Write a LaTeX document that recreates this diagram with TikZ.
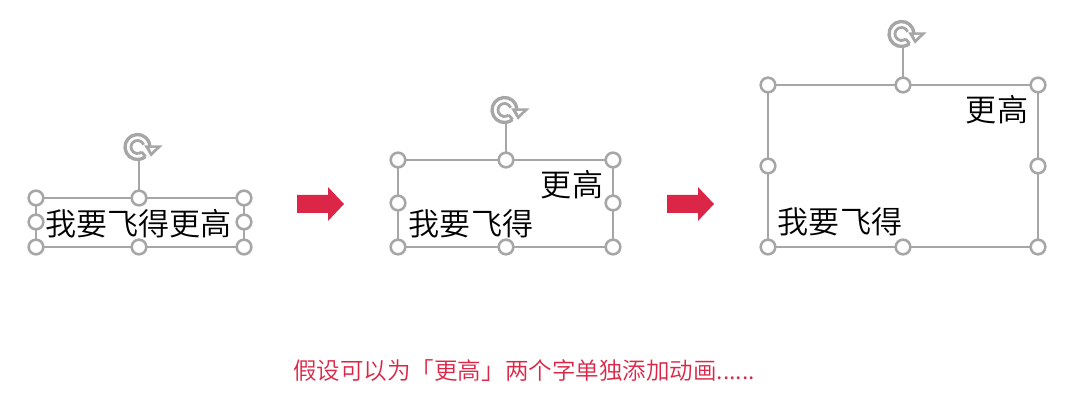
\documentclass[tikz,border=0pt]{standalone}
\usepackage{fontspec}
\setmainfont{Noto Sans CJK SC DemiLight}
\definecolor{hgray}{HTML}{A6A6A6}
\definecolor{hred}{HTML}{DC2647}
\newcommand{\rotateicon}[2]{%
  \begin{scope}[shift={(#1-1.5,#2)},y=0.75pt]
    \draw[hgray,line width=2.5pt] (5:12.5) arc[start angle=5,end angle=310,radius=12.5];
    \draw[hgray,line width=2.1pt] (20:6.5) arc[start angle=20,end angle=310,radius=6.5];
    \draw[hgray,line width=2.1pt] (310:6.5) -- (310:12.5);
    \fill[hgray] (6.7,1.6) -- (25,1.6) -- (13.4,-9.6) -- cycle;
    \fill[white] (12,-0.8) -- (18.5,-0.8) -- (14,-5) -- cycle;
  \end{scope}}
\newcommand{\selbox}[8]{% prefix, x0, xm, x1, y0, ym, y1, icon y
  \coordinate (#1rot) at (#3,#8+12.5);
  \draw[frame] (#2,#5) rectangle (#4,#7);
  \draw[frame] (#3,#5) -- (#1rot);
  \rotateicon{#3}{#8}
  \node[handle] (#1tl) at (#2,#5) {};
  \node[handle] (#1tm) at (#3,#5) {};
  \node[handle] (#1tr) at (#4,#5) {};
  \node[handle] (#1ml) at (#2,#6) {};
  \node[handle] (#1mr) at (#4,#6) {};
  \node[handle] (#1bl) at (#2,#7) {};
  \node[handle] (#1bm) at (#3,#7) {};
  \node[handle] (#1br) at (#4,#7) {};}
\newcommand{\redarrow}[1]{%
  \fill[hred] (#1,195) -- ++(31,0) -- ++(0,-8) -- ++(16,17) -- ++(-16,17) -- ++(0,-8) -- ++(-31,0) -- cycle;}
\tikzset{
  handle/.style={circle,draw=hgray,line width=1.9pt,fill=white,minimum size=11pt,inner sep=0pt},
  frame/.style={hgray,line width=1.2pt},
  label/.style={font=\fontsize{23.3}{23.3}\selectfont,text=black,inner sep=0pt},
  caption/.style={font=\fontsize{17.65}{17.65}\selectfont,text=hred,inner sep=0pt}
}
\begin{document}
\begin{tikzpicture}[x=0.75pt,y=-0.75pt]
\useasboundingbox (0,0) rectangle (1080,413);
\selbox{a}{36}{139}{244}{198}{222}{247}{147}
\selbox{b}{398}{506}{613}{160}{203}{247}{110}
\selbox{c}{768}{903}{1038}{85}{166}{247}{34}
\node[label] (t1) at (138.5,224) {我要飞得更高};
\node[label] (t2a) at (572,185) {更高};
\node[label] (t2b) at (471,224) {我要飞得};
\node[label] (t3a) at (997,110) {更高};
\node[label] (t3b) at (840,222) {我要飞得};
\redarrow{297}
\redarrow{667}
\node[caption] (cap) at (524,371) {假设可以为「更高」两个字单独添加动画......};
\end{tikzpicture}
\end{document}
